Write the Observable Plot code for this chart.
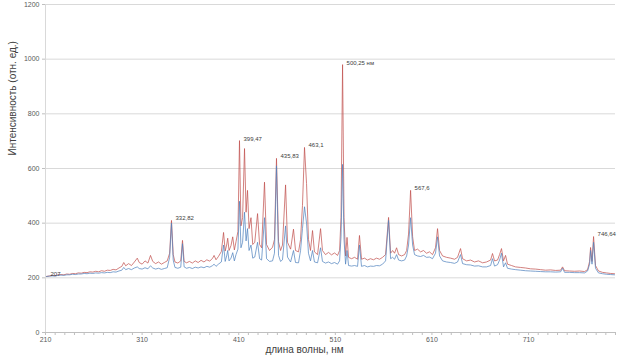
<!DOCTYPE html>
<html>
<head>
<meta charset="utf-8">
<script src="https://cdn.jsdelivr.net/npm/d3@7"></script>
<script src="https://cdn.jsdelivr.net/npm/@observablehq/plot@0.6"></script>
<style>
  html, body { margin: 0; padding: 0; background: #fff; }
  #chart { width: 625px; height: 360px; }
</style>
</head>
<body>
<div id="chart"></div>
<script>
// wavelength positions along the axis (axis units)
const wl = [
  211,214,217,220,223,226,229,232,235,238,241,244,247,250,253,256,259,262,265,268,
  271,274,277,280,283,286,289,291,293,296,299,302,305,307,310,313,316,318.7,321,324,
  327,330,333,336,338.5,340.4,342.2,344,347,350,351.8,353.5,356,359,362,365,368,371,374,377,
  380,383,384.5,386.5,389,392,394.3,396,397.5,398.6,400,402,403.8,405.5,407.2,409.2,410.8,412.3,414,416,
  417.6,419.1,420.7,422.7,424.5,426.6,429.5,431.6,433.7,436.7,438.8,441.9,445,447,449.1,451.2,453.3,455.3,458.5,460.5,
  463.7,466.7,468.8,471.9,474,476,478.1,480.2,482.2,484.3,486.4,488.4,491.6,494.7,496.7,499.8,503,506,509.2,512.3,
  514.4,515.9,517.5,519,520.6,522.1,523.7,526.8,529.9,533,535,537.1,540.2,543.3,546.4,549.5,552.6,555.8,558.9,562,
  565.1,567.2,569.3,571.3,573.4,575.5,578.6,581.7,583.8,585.8,587.9,590,592,595.1,598.2,601.3,604.4,607.5,610.6,613.7,
  615.8,617.9,621,625.1,629.3,633.4,636.5,639.6,641.7,645.8,650,654.1,658.2,662.4,666.5,670.7,672.7,674.8,677.9,680,
  682,684.1,686.2,688.2,692.4,696.5,701.7,706.9,712.1,717.2,722.4,727.6,732.8,738,743.2,745.2,747.3,752.4,757.6,762.8,
  768,771.1,773.2,774.2,775.7,777.3,779.3,782.4,786.6,790.7,794.9,799
];
// upper (red) series
const redVals = [
  205,207,209,208,211,212,211,214,213,216,215,218,217,220,219,222,221,224,222,226,
  224,228,227,231,229,236,242,256,244,252,245,258,272,256,250,262,254,282,260,252,
  258,250,256,262,290,410,285,258,254,262,337,260,255,260,254,262,256,264,258,266,
  261,272,282,266,278,296,366,298,320,345,300,318,350,302,332,370,702,390,420,673,
  440,520,380,420,322,330,435,322,310,550,322,300,312,340,637,332,300,320,540,330,
  305,378,300,295,340,465,677,545,340,300,373,295,285,380,300,285,293,284,291,282,
  300,420,980,420,280,348,275,270,275,268,355,268,272,265,270,266,272,268,275,285,
  421,290,300,290,310,285,280,285,300,360,520,350,300,305,295,300,290,295,285,310,
  380,300,280,275,272,268,275,307,270,262,265,258,262,255,258,265,289,262,265,285,
  307,262,282,250,245,240,238,236,233,232,230,228,229,227,228,240,226,225,224,225,
  223,230,260,311,260,351,245,225,220,218,216,215
];
// lower (blue) series
const blueVals = [
  205,206,207,206,209,210,209,211,211,213,212,214,214,216,215,217,216,218,217,219,
  218,220,219,222,221,225,228,238,230,234,230,236,240,234,232,237,233,244,236,232,
  235,231,234,237,275,400,265,238,235,239,325,240,235,238,234,239,236,240,237,242,
  239,245,250,242,250,258,320,260,280,300,262,272,292,262,285,305,480,310,330,440,
  335,380,300,320,272,276,330,270,265,420,270,260,262,290,610,282,260,266,390,276,
  258,300,256,255,300,380,460,400,290,262,300,258,255,310,260,254,258,252,256,250,
  262,350,615,340,250,300,245,243,245,242,320,242,245,240,243,242,245,244,250,262,
  410,270,275,268,285,265,262,265,280,320,420,320,285,280,278,282,275,276,270,290,
  350,280,262,258,256,253,258,285,252,248,247,243,244,240,240,245,270,243,248,265,
  290,240,255,235,232,230,228,226,225,224,223,222,222,221,222,235,220,220,219,219,
  218,225,250,300,250,330,235,218,215,213,212,211
];

// peak annotations (text as in the original)
const peakLabels = ["207", "332,82", "399,47", "435,83", "463,1", "500,25 нм", "567,6", "746,64"];
const peakX = [211, 340.4, 410.8, 449.1, 478.1, 517.5, 587.9, 777.3];
const peakY = [205, 410, 702, 637, 677, 980, 520, 351];

const yTicks = [0, 200, 400, 600, 800, 1000, 1200];
const xTicks = [210, 310, 410, 510, 610, 710];
const xMinorTicks = d3.range(210, 801, 10);

const yTitle = "Интенсивность (отн. ед.)";
const xTitle = "длина волны, нм";

const rows = wl.map((w, i) => ({w, red: redVals[i], blue: blueVals[i]}));
const peaks = peakLabels.map((t, i) => ({t, x: peakX[i], y: peakY[i]}));

const chart = Plot.plot({
  width: 625,
  height: 360,
  marginLeft: 45,
  marginRight: 10,
  marginTop: 4,
  marginBottom: 28,
  style: {fontFamily: "Liberation Sans, Arial, sans-serif", background: "#fff"},
  x: {domain: [210, 800]},
  y: {domain: [0, 1200]},
  marks: [
    Plot.gridY(yTicks, {stroke: "#d9d9d9", strokeOpacity: 1}),
    Plot.ruleX([210], {stroke: "#d9d9d9"}),
    Plot.ruleY([0], {stroke: "#bfbfbf"}),
    Plot.axisY(yTicks, {tickSize: 3, tickPadding: 3, fontSize: 7, stroke: "#bfbfbf", fill: "#595959", label: null, tickFormat: (d) => String(d)}),
    Plot.axisX(xMinorTicks, {tickSize: 3, stroke: "#bfbfbf", text: null, label: null}),
    Plot.axisX(xTicks, {tickSize: 0, tickPadding: 5, fontSize: 7, fill: "#595959", label: null, tickFormat: (d) => String(d)}),
    Plot.line(rows, {x: "w", y: "red", stroke: "#c0504d", strokeWidth: 0.9, strokeOpacity: 0.8}),
    Plot.line(rows, {x: "w", y: "blue", stroke: "#4f81bd", strokeWidth: 0.9, strokeOpacity: 0.8}),
    Plot.text(peaks, {x: "x", y: "y", text: "t", textAnchor: "start", dx: 4, dy: -2, fontSize: 6, fill: "#404040"}),
    Plot.text([yTitle], {frameAnchor: "left", rotate: -90, dx: -33, dy: -13, fontSize: 10, fill: "#404040"}),
    Plot.text([xTitle], {frameAnchor: "bottom", dy: 20, dx: -26, fontSize: 10, fill: "#404040"})
  ]
});
document.getElementById("chart").appendChild(chart);
</script>
</body>
</html>
